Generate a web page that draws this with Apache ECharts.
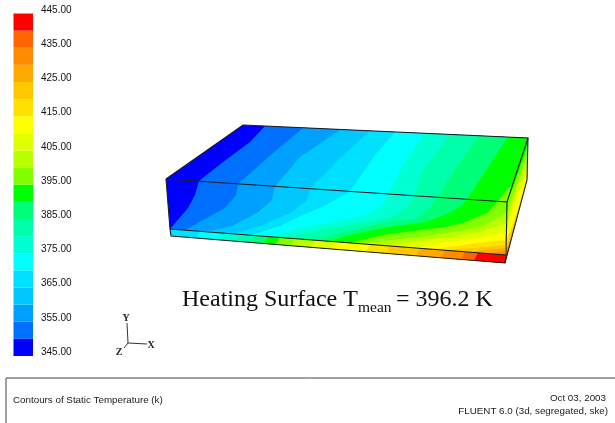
<!DOCTYPE html>
<html><head><meta charset="utf-8">
<style>html,body{margin:0;padding:0;background:#fff}#c{width:615px;height:423px}</style>
<script src="https://cdn.jsdelivr.net/npm/echarts@6/dist/echarts.min.js"></script>
</head><body><div id="c"></div>
<script>
const bandLows = [345,350,355,360,365,370,375,380,385,390,395,400,405,410,415,420,425,430,435,440];
const bandColors = ['#0000ff','#0070ff','#00a0ff','#00c8ff','#00e0ff','#00ffff','#00ffd2','#00ffaa','#00ff78','#00ff00',
                    '#80ff00','#b8ff00','#e0ff00','#ffff00','#ffe100','#ffc800','#ffaa00','#ff8c00','#ff6600','#ff0000'];

// Box corners
const topFace   = [[166,179],[243,125],[528,138],[507,202]];
const frontFace = [[166,179],[507,202],[506,255],[170,229]];
const stripFace = [[170,229],[506,255],[505,263],[171,236]];
const sideFace  = [[507,202],[528,138],[527,180],[505,263]];

// Isotherms per face: [level, points along the line]; the hotter side is closed through the given corners
const topLines = [
 [350,[[265,126],[250,142],[223,162],[199,181]]],
 [355,[[303,128],[273,153],[238,183.9]]],
 [360,[[340,130],[300,157],[275,186.4]]],
 [365,[[370,131],[340,158],[310,188.7]]],
 [370,[[395,132],[375,155],[350,191.4]]],
 [375,[[425,133],[405,162],[388,194]]],
 [380,[[450,135],[423,170],[415,195.8]]],
 [385,[[478,137],[450,177],[437,197.3]]],
 [390,[[507,138],[483,175],[467,199.3]]],
 [395,[[512,185],[505,192],[498,201.4]]]
];
const frontLines = [
 [350,[[199,181],[195,195],[188,208],[170,229]]],
 [355,[[238,183.9],[236,195],[225,208],[203,220],[185,230.2]]],
 [360,[[275,186.4],[272,200],[257,213],[230,227],[205,231.7]]],
 [365,[[310,188.7],[307,200],[290,213],[260,226],[233,233.9]]],
 [370,[[350,191.4],[335,200],[320,208],[300,216],[280,226],[250,235.2]]],
 [375,[[388,194],[384,204],[370,214],[333,222],[300,228],[272,236.9]]],
 [380,[[415,195.8],[410,205],[395,215],[383,219],[333,228],[300,235],[285,237.9]]],
 [385,[[437,197.3],[430,208],[415,219],[383,223],[343,232],[315,240.2]]],
 [390,[[467,199.3],[460,207],[445,215],[425,222],[383,228],[350,235],[328,241.2]]],
 [395,[[498,201.4],[487,213],[463,223],[440,228],[425,229.5],[383,235],[350,242.9]]],
 [400,[[507,213],[480,227],[453,232],[420,237],[383,241],[362,243.9]]],
 [405,[[507,223],[480,232],[450,237],[425,240],[385,245.6]]],
 [410,[[507,232],[480,238],[440,243],[415,247.9]]],
 [415,[[507,240],[477,243],[440,248.3],[425,248.7]]],
 [420,[[507,245],[470,248.3],[445,250.3]]],
 [425,[[507,248],[487,250],[470,252.2]]],
 [430,[[507,251],[490,253.7]]],
 [435,[[507,253.5],[500,254.5]]]
];
const sideLines = [
 [395,[[528,146],[512,190],[507,202]]],
 [400,[[527,158],[515,190],[507,213]]],
 [405,[[527,166],[516,192],[507,223]]],
 [410,[[527,174],[517,195],[507,232]]],
 [415,[[524,191],[513,222],[507,240]]],
 [420,[[520,208],[511,232],[507,245]]],
 [425,[[517,218],[510,240],[507,248]]],
 [430,[[513,230],[507,251]]],
 [435,[[510,243],[506,254]]]
];
// Strip below the front face: [level, x on upper edge, x on lower edge]
const stripLines = [
 [370,200,196],[375,222,218],[380,240,236],[385,255,251],[390,268,264],[395,280,276],[400,295,291],
 [405,315,311],[410,335,331],[415,370,366],[420,390,386],[425,420,416],[430,445,441],[435,465,461],[440,478,474]
];

// Box outline
const boxEdges = [
 [[166,179],[243,125],[528,138],[527,180],[505,263],[171,236],[170,229],[166,179]],
 [[166,179],[507,202],[528,138]],
 [[507,202],[506,255]],
 [[170,229],[506,255],[505,263]]
];
// Coordinate triad
const triadLines = [[[127,323],[128,343]],[[128,343],[147,344]],[[128,343],[124,348]]];
const triadLabels = [['Y',126,318],['X',151,345],['Z',119,352]];
// Footer frame
const frameLines = [[[6,423],[6,378],[615,378]]];

const colorOf = lv => bandColors[bandLows.indexOf(lv)];
const onEdge = (a,b,x) => [x, a[1]+(b[1]-a[1])*(x-a[0])/(b[0]-a[0])];

const polys = [];
polys.push({pts:topFace, color:colorOf(345)});
topLines.forEach(([lv,p]) => polys.push({pts:p.concat(lv===395?[topFace[3]]:[topFace[3],topFace[2]]), color:colorOf(lv)}));
polys.push({pts:frontFace, color:colorOf(345)});
frontLines.forEach(([lv,p]) => polys.push({pts:p.concat(p[0][0]===507?[frontFace[2]]:[frontFace[2],frontFace[1]]), color:colorOf(lv)}));
polys.push({pts:stripFace, color:colorOf(365)});
stripLines.forEach(([lv,a,b]) => polys.push({pts:[onEdge(stripFace[0],stripFace[1],a),stripFace[1],stripFace[2],onEdge(stripFace[3],stripFace[2],b)], color:colorOf(lv)}));
polys.push({pts:sideFace, color:colorOf(390)});
sideLines.forEach(([lv,p]) => polys.push({pts:p.concat(p[0][0]>=527||lv===395?[sideFace[3],sideFace[2]]:[sideFace[3]]), color:colorOf(lv)}));

const polyRender = (params, api) => {
  const p = polys[api.value(0)];
  return {type:'polygon', shape:{points:p.pts.map(q=>api.coord(q))}, style:{fill:p.color}, silent:true};
};
const lineRender = (list, color, width) => (params, api) => ({
  type:'polyline', shape:{points:list[api.value(0)].map(q=>api.coord(q))},
  style:{stroke:color, lineWidth:width, fill:null}, silent:true
});
const idx = a => a.map((_,i)=>[i]);
const footStyle = {fontFamily:'Liberation Sans', fontSize:9.8, fill:'#1a1a1a'};

const chart = echarts.init(document.getElementById('c'), null, {renderer:'canvas'});
chart.setOption({
  animation:false,
  backgroundColor:'#ffffff',
  grid:[
    {left:0, top:0, width:615, height:423, containLabel:false},
    {left:13.5, top:13.5, width:19.5, height:342.5, containLabel:false},
    {left:13.5, top:10, width:19.5, height:342, containLabel:false}
  ],
  xAxis:[
    {gridIndex:0, type:'value', min:0, max:615, show:false},
    {gridIndex:1, type:'value', min:0, max:1, show:false},
    {gridIndex:2, type:'value', min:0, max:1, show:false}
  ],
  yAxis:[
    {gridIndex:0, type:'value', min:0, max:423, inverse:true, show:false},
    {gridIndex:1, type:'value', min:345, max:445, show:false},
    {gridIndex:2, type:'value', min:345, max:445, interval:10, position:'right',
     axisLine:{show:false}, axisTick:{show:false}, splitLine:{show:false},
     axisLabel:{margin:8, color:'#111', fontFamily:'Liberation Sans', fontSize:10,
                formatter:v=>v.toFixed(2)}}
  ],
  series:[
    {type:'custom', coordinateSystem:'cartesian2d', xAxisIndex:1, yAxisIndex:1, clip:false,
     data:bandLows.map((lo,i)=>[i,lo]),
     renderItem:(params,api)=>{
       const i=api.value(0), lo=bandLows[i];
       const a=api.coord([0,lo]), b=api.coord([1,lo+5]);
       return {type:'rect', shape:{x:a[0],y:b[1],width:b[0]-a[0],height:a[1]-b[1]}, style:{fill:bandColors[i]}};
     }},
    {type:'custom', xAxisIndex:0, yAxisIndex:0, clip:false, data:idx(polys), renderItem:polyRender},
    {type:'custom', xAxisIndex:0, yAxisIndex:0, clip:false, data:idx(boxEdges), renderItem:lineRender(boxEdges,'#1c1c1c',1.1)},
    {type:'custom', xAxisIndex:0, yAxisIndex:0, clip:false, data:idx(triadLines), renderItem:lineRender(triadLines,'#333',1)},
    {type:'custom', xAxisIndex:0, yAxisIndex:0, clip:false, data:idx(frameLines), renderItem:lineRender(frameLines,'#444',1)},
    {type:'custom', xAxisIndex:0, yAxisIndex:0, clip:false, data:idx(triadLabels),
     renderItem:(params,api)=>{
       const t=triadLabels[api.value(0)], c=api.coord([t[1],t[2]]);
       return {type:'text', x:c[0], y:c[1], style:{text:t[0], fontFamily:'Liberation Serif', fontSize:10, fontWeight:'bold', fill:'#222', align:'center', verticalAlign:'middle'}};
     }}
  ],
  graphic:[
    {type:'text', left:182, top:288, style:{text:'Heating Surface T', fontFamily:'Liberation Serif', fontSize:24, fill:'#111'}},
    {type:'text', left:358, top:300, style:{text:'mean', fontFamily:'Liberation Serif', fontSize:15.5, fill:'#111'}},
    {type:'text', left:396, top:288, style:{text:'= 396.2 K', fontFamily:'Liberation Serif', fontSize:24, fill:'#111'}},
    {type:'text', left:13, top:395, style:Object.assign({text:'Contours of Static Temperature (k)'},footStyle)},
    {type:'text', right:9, top:393, style:Object.assign({text:'Oct 03, 2003'},footStyle)},
    {type:'text', right:7, top:406, style:Object.assign({text:'FLUENT 6.0 (3d, segregated, ske)'},footStyle)}
  ]
});
</script></body></html>
